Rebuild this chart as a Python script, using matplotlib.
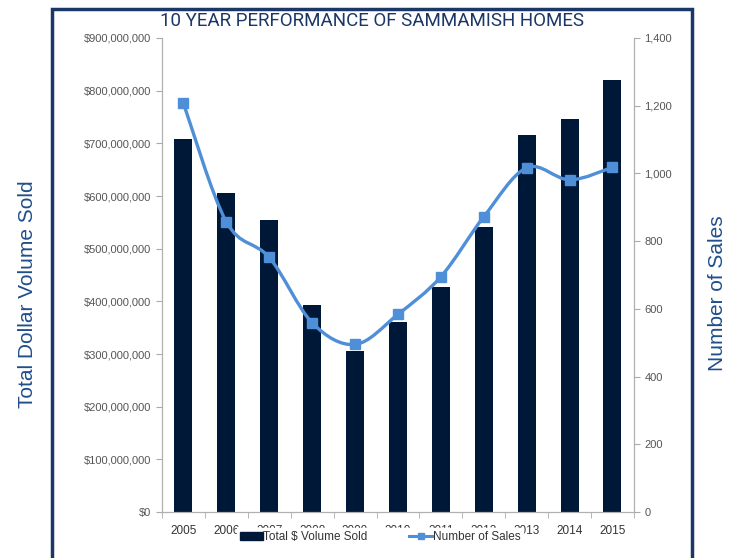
import numpy as np
import matplotlib.pyplot as plt
from matplotlib.path import Path
from matplotlib.patches import PathPatch, Rectangle
from matplotlib.ticker import FuncFormatter

plt.rcParams['font.family'] = ['Liberation Sans', 'DejaVu Sans']

years = ['2005', '2006', '2007', '2008', '2009', '2010', '2011', '2012', '2013', '2014', '2015']
volume = [708e6, 606e6, 554e6, 393e6, 306e6, 361e6, 427e6, 541e6, 716e6, 746e6, 820e6]
sales = [1207, 857, 752, 559, 495, 584, 695, 872, 1017, 981, 1018]

navy = '#001838'
blue = '#4f8fd8'
frame = '#1b3768'
grey = '#555555'

fig = plt.figure(figsize=(7.38, 5.58), dpi=100)
ax = fig.add_axes([0.2195, 0.0824, 0.6395, 0.8495])
ax2 = ax.twinx()

x = np.arange(len(years))
ax.bar(x, volume, width=0.42, color=navy, zorder=2)
ax.set_xlim(-0.5, len(years) - 0.5)
ax.set_ylim(0, 900e6)
ax.set_yticks(np.arange(0, 901e6, 100e6))
ax.yaxis.set_major_formatter(FuncFormatter(lambda v, p: '${:,.0f}'.format(v)))
ax.set_xticks(x)
ax.set_xticklabels(years)
ax.set_xticks(np.arange(-0.5, len(years), 1), minor=True)
ax.tick_params(axis='x', which='major', length=0, labelsize=8.5, colors='#333333', pad=9)
ax.tick_params(axis='x', which='minor', length=4, color='#aaaaaa')
ax.tick_params(axis='y', length=4, color='#aaaaaa', labelsize=8, labelcolor=grey)

# smooth line through the sales points (Catmull-Rom as cubic bezier)
pts = np.column_stack([x, sales]).astype(float)
verts = [tuple(pts[0])]
codes = [Path.MOVETO]
for i in range(len(pts) - 1):
    p0 = pts[max(i - 1, 0)]
    p1 = pts[i]
    p2 = pts[i + 1]
    p3 = pts[min(i + 2, len(pts) - 1)]
    c1 = p1 + (p2 - p0) / 6
    c2 = p2 - (p3 - p1) / 6
    verts += [tuple(c1), tuple(c2), tuple(p2)]
    codes += [Path.CURVE4] * 3
ax2.add_patch(PathPatch(Path(verts, codes), fill=False, edgecolor=blue, lw=2.4, zorder=3))
ax2.plot(x, sales, ls='none', marker='s', ms=6.5, color=blue, zorder=4)
ax2.set_ylim(0, 1400)
ax2.set_yticks(np.arange(0, 1401, 200))
ax2.yaxis.set_major_formatter(FuncFormatter(lambda v, p: '{:,.0f}'.format(v)))
ax2.tick_params(axis='y', length=4, color='#aaaaaa', labelsize=8, labelcolor=grey)

for a in (ax, ax2):
    a.spines['top'].set_visible(False)
    for s in ('left', 'right', 'bottom'):
        a.spines[s].set_color('#b0b0b0')

h1 = Rectangle((0, 0), 1, 1, color=navy)
h2, = ax2.plot([], [], color=blue, marker='s', ms=5, lw=2.2)
leg = fig.legend([h1, h2], ['Total \\$ Volume Sold', 'Number of Sales'], loc='center',
                 bbox_to_anchor=(0.515, 0.037), ncol=2, frameon=True, fontsize=8.5,
                 handlelength=2.0, handleheight=0.6, columnspacing=3.5, handletextpad=0.0,
                 borderpad=0.25)
leg.get_frame().set_facecolor('white')
leg.get_frame().set_edgecolor('white')
leg.get_frame().set_alpha(1)
leg.get_frame().set_boxstyle('square', pad=0)
for t in leg.get_texts():
    t.set_color('#333333')

fig.text(0.504, 0.962, '10 YEAR PERFORMANCE OF SAMMAMISH HOMES', ha='center', va='center',
         fontsize=13.5, color=frame, family='Roboto')
fig.text(0.037, 0.472, 'Total Dollar Volume Sold', rotation=90, ha='center', va='center',
         fontsize=15, color='#1f4e8c')
fig.text(0.972, 0.475, 'Number of Sales', rotation=90, ha='center', va='center',
         fontsize=15, color='#1f4e8c')

fig.patches.append(Rectangle((52 / 738, -0.05), 640 / 738, 1.05 - 9 / 558, transform=fig.transFigure,
                             fill=False, edgecolor=frame, lw=2.5, zorder=10))

fig.savefig('out.png', dpi=100)
